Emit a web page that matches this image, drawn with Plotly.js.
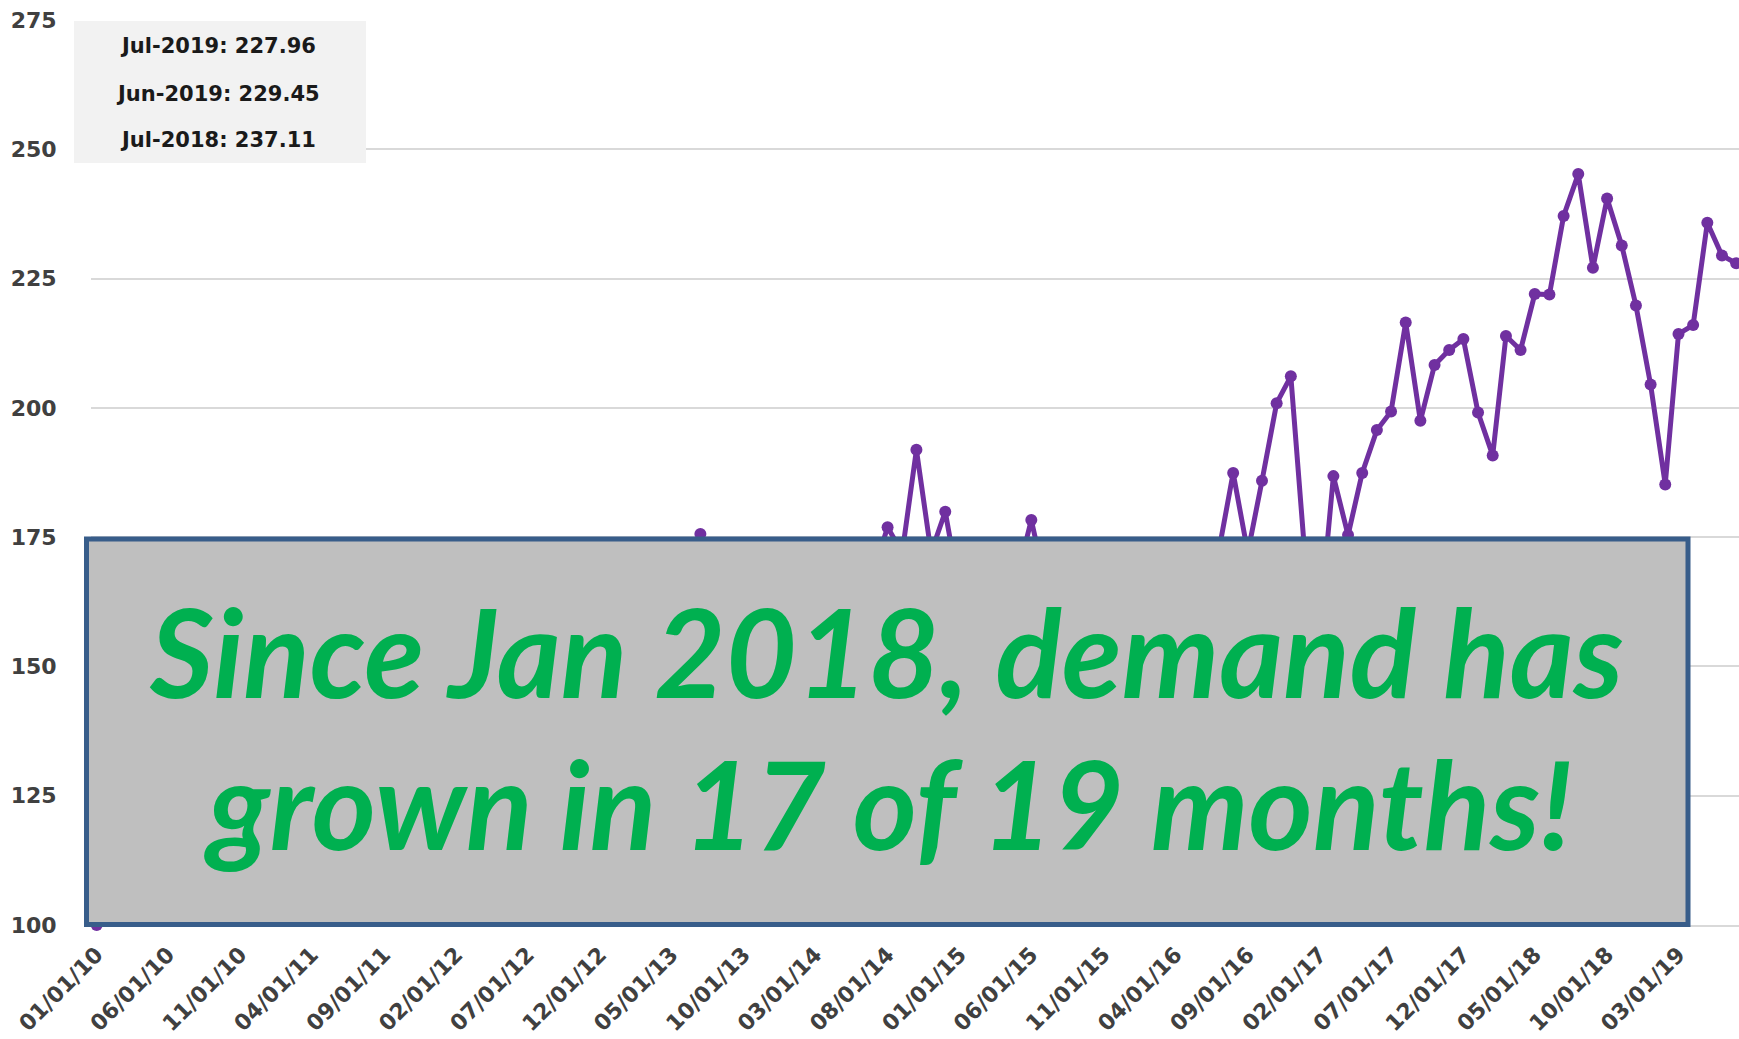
<!DOCTYPE html>
<html>
<head>
<meta charset="utf-8">
<script src="https://cdn.plot.ly/plotly-3.0.1.min.js"></script>
<style>
  html, body { margin: 0; padding: 0; background: #ffffff; }
  #chart { width: 1739px; height: 1039px; }
</style>
</head>
<body>
<div id="chart"></div>
<script>
// ---- Data (monthly demand index, Jan 2010 = 100) ----
var v2010 = [100, 104, 112, 118, 121, 126, 130, 128, 125, 131, 127, 133];
var v2011 = [130, 133, 141, 144, 140, 147, 150, 148, 143, 149, 146, 152];
var v2012 = [148, 150, 158, 155, 161, 160, 164, 159, 155, 162, 158, 163];
var v2013 = [160, 157, 165, 163, 168, 168, 175.6, 166, 163, 167, 164, 170];
var v2014 = [166, 162, 168, 170, 167, 169, 168, 176.9, 172, 191.9, 172, 179.9];
var v2015 = [164, 160, 168, 170, 167, 178.3, 166, 170, 162, 168, 163, 171];
var v2016 = [165, 158, 168, 167, 166, 170, 172, 187.4, 172, 185.9, 200.9, 206.1];
var v2017 = [170, 159, 186.8, 175.4, 187.4, 195.7, 199.3, 216.5, 197.5, 208.3, 211.2, 213.3];
var v2018 = [199.1, 190.8, 213.9, 211.2, 222.0, 221.9, 237.11, 245.2, 227.1, 240.5, 231.4, 219.8];
var v2019 = [204.5, 185.2, 214.3, 216.0, 235.8, 229.45, 227.96];

var years = [2010, 2011, 2012, 2013, 2014, 2015, 2016, 2017, 2018, 2019];
var yearValues = [v2010, v2011, v2012, v2013, v2014, v2015, v2016, v2017, v2018, v2019];

var tickDates = ['2010-01-01','2010-06-01','2010-11-01','2011-04-01','2011-09-01','2012-02-01',
  '2012-07-01','2012-12-01','2013-05-01','2013-10-01','2014-03-01','2014-08-01','2015-01-01',
  '2015-06-01','2015-11-01','2016-04-01','2016-09-01','2017-02-01','2017-07-01','2017-12-01',
  '2018-05-01','2018-10-01','2019-03-01'];
var tickLabels = ['01/01/10','06/01/10','11/01/10','04/01/11','09/01/11','02/01/12',
  '07/01/12','12/01/12','05/01/13','10/01/13','03/01/14','08/01/14','01/01/15',
  '06/01/15','11/01/15','04/01/16','09/01/16','02/01/17','07/01/17','12/01/17',
  '05/01/18','10/01/18','03/01/19'];

var noteLabels = ['Jul-2019: 227.96', 'Jun-2019: 229.45', 'Jul-2018: 237.11'];
var headline = ['Since Jan 2018, demand has', 'grown in 17 of 19 months!'];

// ---- Build series ----
var xs = [], ys = [];
for (var k = 0; k < years.length; k++) {
  for (var m = 0; m < yearValues[k].length; m++) {
    var mm = (m + 1 < 10 ? '0' : '') + (m + 1);
    xs.push(years[k] + '-' + mm + '-01');
    ys.push(yearValues[k][m]);
  }
}

// ---- Layout geometry (pixels) ----
var W = 1739, H = 1039;
var ML = 91, MR = 0, MT = 20, MB = 114;
var PW = W - ML - MR, PH = H - MT - MB;
function px(x) { return (x - ML) / PW; }
function py(y) { return (H - MB - y) / PH; }

var trace = {
  x: xs, y: ys, type: 'scatter', mode: 'lines+markers',
  line: { color: '#7030A0', width: 5 },
  marker: { color: '#7030A0', size: 12 },
  cliponaxis: false,
  hoverinfo: 'skip'
};

var tickFont = { family: 'DejaVu Sans', size: 22, color: '#404040', weight: 'bold' };
var headFont = { family: 'Lato', size: 123, color: '#00B050', weight: 'bold', style: 'italic' };
var noteFont = { family: 'DejaVu Sans', size: 21, color: '#1A1A1A', weight: 'bold' };

var layout = {
  width: W, height: H,
  margin: { l: ML, r: MR, t: MT, b: MB },
  paper_bgcolor: '#ffffff', plot_bgcolor: '#ffffff',
  showlegend: false,
  xaxis: {
    type: 'date',
    range: ['2009-12-20', '2019-07-07'],
    tickvals: tickDates, ticktext: tickLabels,
    tickangle: -45,
    tickfont: { family: 'DejaVu Sans', size: 22, color: '#404040', weight: 'bold' },
    ticks: 'outside', ticklen: 6, tickcolor: 'rgba(0,0,0,0)',
    showgrid: false, zeroline: false,
    showline: true, linecolor: '#D9D9D9', linewidth: 2
  },
  yaxis: {
    range: [100, 275], dtick: 25, tick0: 100,
    tickfont: tickFont,
    ticks: 'outside', ticklen: 29, tickcolor: 'rgba(0,0,0,0)',
    showgrid: true, gridcolor: '#D9D9D9', gridwidth: 2,
    zeroline: false, showline: false
  },
  shapes: [
    { type: 'rect', xref: 'paper', yref: 'paper', layer: 'above',
      x0: px(74), x1: px(366), y0: py(163), y1: py(21),
      fillcolor: '#F2F2F2', line: { width: 0 } },
    { type: 'rect', xref: 'paper', yref: 'paper', layer: 'above',
      x0: px(86.5), x1: px(1688), y0: py(924.5), y1: py(539),
      fillcolor: '#BFBFBF', line: { color: '#385D8A', width: 5 } }
  ],
  annotations: [
    { xref: 'paper', yref: 'paper', x: px(217.5), y: py(46), showarrow: false,
      text: noteLabels[0], xanchor: 'center', yanchor: 'middle', font: noteFont },
    { xref: 'paper', yref: 'paper', x: px(217.5), y: py(94), showarrow: false,
      text: noteLabels[1], xanchor: 'center', yanchor: 'middle', font: noteFont },
    { xref: 'paper', yref: 'paper', x: px(217.5), y: py(139.5), showarrow: false,
      text: noteLabels[2], xanchor: 'center', yanchor: 'middle', font: noteFont },
    { xref: 'paper', yref: 'paper', x: px(886), y: py(650), showarrow: false,
      text: headline[0], xanchor: 'center', yanchor: 'middle', font: headFont },
    { xref: 'paper', yref: 'paper', x: px(888), y: py(802), showarrow: false,
      text: headline[1], xanchor: 'center', yanchor: 'middle', font: headFont }
  ]
};

Plotly.newPlot('chart', [trace], layout, { displayModeBar: false, staticPlot: true });
</script>
</body>
</html>
